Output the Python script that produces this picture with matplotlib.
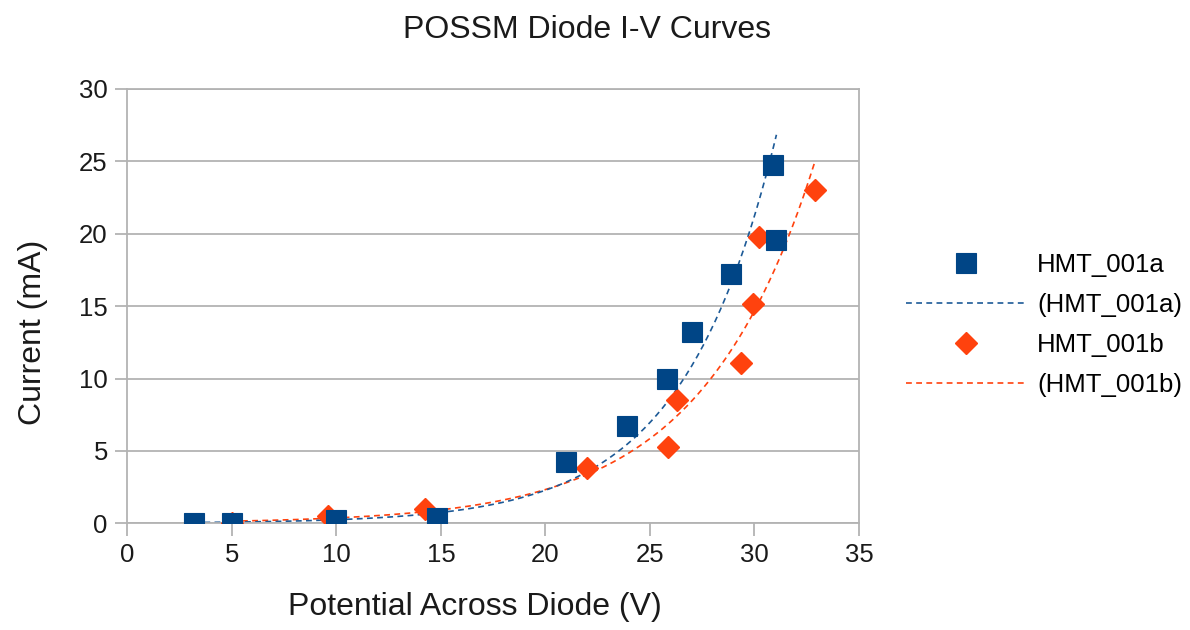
#!/usr/bin/env python
import numpy as np
import matplotlib
matplotlib.use('Agg')
import matplotlib.pyplot as plt

# HMT_001a measurements (V, mA)
volts_a = [3.2, 5.0, 10.0, 14.8, 21.0, 23.9, 25.8, 27.0, 28.9, 30.9, 31.05]
amps_a = [0.0, 0.05, 0.2, 0.35, 4.25, 6.75, 10.0, 13.2, 17.25, 24.75, 19.55]

# HMT_001b measurements (V, mA)
volts_b = [5.0, 9.6, 14.25, 22.0, 25.85, 26.3, 29.35, 29.95, 30.2, 32.9]
amps_b = [0.0, 0.5, 1.0, 3.8, 5.25, 8.5, 11.05, 15.15, 19.8, 23.0]

# exponential trend lines I = a*exp(b*V)
trend_a = (0.0264, 0.223)
trend_b = (0.0588, 0.184)

BLUE = '#004586'
BLUE_LINE = '#1d5a97'
ORANGE = '#ff420e'
GREY = '#b3b3b3'
TXT = '#1a1a1a'

plt.rcParams['font.family'] = ['Liberation Sans', 'DejaVu Sans']

fig = plt.figure(figsize=(11.9, 6.3), dpi=100, facecolor='w')
ax = fig.add_axes([127.3/1190, 1-523.3/630, (859-127.3)/1190, (523.3-89)/630])

xa = np.linspace(min(volts_a), max(volts_a), 200)
xb = np.linspace(min(volts_b), max(volts_b), 200)

ax.plot(volts_b, amps_b, linestyle='none', marker='D', ms=11, color=ORANGE,
	mec=ORANGE, zorder=3, label='HMT_001b')
ax.plot(xb, trend_b[0]*np.exp(trend_b[1]*xb), color=ORANGE, lw=1.2,
	dashes=(3.5, 2.6), zorder=2, label='(HMT_001b)')
ax.plot(volts_a, amps_a, linestyle='none', marker='s', ms=14.5, color=BLUE,
	mec=BLUE, mew=0.8, zorder=4, label='HMT_001a')
ax.plot(xa, trend_a[0]*np.exp(trend_a[1]*xa), color=BLUE_LINE, lw=1.2,
	dashes=(3.5, 2.6), zorder=2, label='(HMT_001a)')

ax.set_xlim(0, 35)
ax.set_ylim(0, 30)
ax.set_xticks(range(0, 36, 5))
ax.set_yticks(range(0, 31, 5))
ax.yaxis.grid(True, color=GREY, lw=1.3)
ax.set_axisbelow(True)
for s in ax.spines.values():
	s.set_color(GREY)
	s.set_linewidth(1.3)
ax.tick_params(colors=GREY, labelcolor=TXT, labelsize=18.5, length=9,
	width=1.3, pad=5)

fig.text(587/1190, 1-30/630, 'POSSM Diode I-V Curves', fontsize=23,
	ha='center', va='center', color=TXT)
fig.text(475/1190, 1-607/630, 'Potential Across Diode (V)', fontsize=23,
	ha='center', va='center', color=TXT)
fig.text(33/1190, 1-332/630, 'Current (mA)', fontsize=23, rotation=90,
	ha='center', va='center', color=TXT)

h, l = ax.get_legend_handles_labels()
order = [2, 3, 0, 1]
fig.legend([h[i] for i in order], [l[i] for i in order], loc='center left',
	bbox_to_anchor=(906/1190, 1-325/630), frameon=False, fontsize=18.5,
	handlelength=4.7, handletextpad=0.4, labelspacing=0.62, borderpad=0,
	borderaxespad=0)

plt.savefig('out.png', dpi=100, facecolor='w')
